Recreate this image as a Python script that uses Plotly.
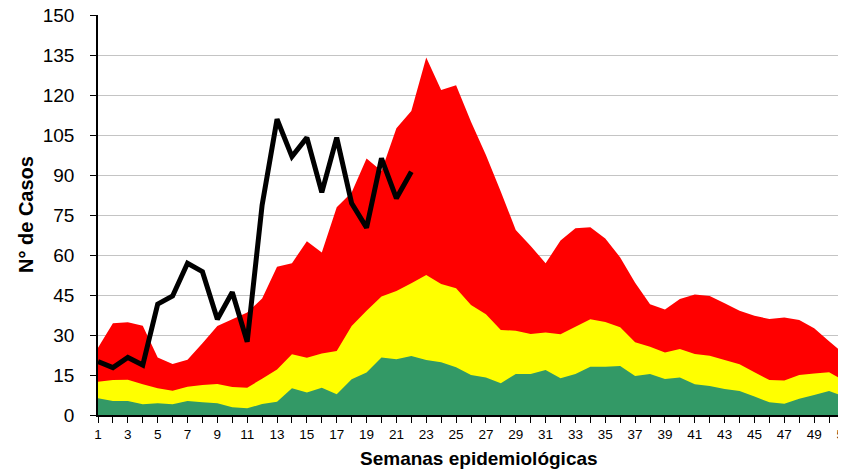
import plotly.graph_objects as go

weeks = list(range(1, 52))

# Upper channel (red area top)
red_top = [25.2, 34.4, 34.8, 33.5, 21.6, 19.1, 20.7, 26.9, 33.4, 35.9,
           38.4, 43.7, 55.6, 56.9, 65.2, 60.9, 77.9, 83.4, 96.2, 91.5,
           107.5, 114.0, 134.1, 121.9, 123.7, 110.0, 97.5, 83.7, 69.4, 63.4,
           56.9, 65.4, 70.0, 70.4, 66.2, 59.1, 49.6, 41.5, 39.6, 43.5,
           45.2, 44.6, 41.9, 39.1, 37.2, 36.0, 36.6, 35.6, 32.5, 27.7,
           22.9]

# Median / safety zone top (yellow)
yellow_top = [12.5, 13.1, 13.25, 11.5, 10.0, 9.1, 10.6, 11.25, 11.6, 10.5,
              10.25, 13.6, 17.1, 22.75, 21.5, 23.1, 24.0, 33.4, 39.1, 44.4,
              46.5, 49.4, 52.5, 49.1, 47.5, 41.25, 37.75, 31.9, 31.6, 30.4,
              30.9, 30.25, 33.1, 35.9, 34.9, 32.9, 27.25, 25.6, 23.4, 24.75,
              22.9, 22.25, 20.6, 19.0, 16.0, 13.1, 12.9, 15.0, 15.6, 16.0,
              12.9]

# Lower channel (green area top)
green_top = [6.25, 5.25, 5.25, 4.0, 4.4, 4.0, 5.25, 4.75, 4.4, 2.9,
             2.5, 4.1, 5.0, 10.0, 8.4, 10.25, 7.75, 13.4, 15.9, 21.6,
             20.9, 22.1, 20.6, 19.75, 17.9, 15.0, 14.1, 11.9, 15.4, 15.4,
             16.9, 13.75, 15.4, 18.1, 18.1, 18.4, 14.6, 15.4, 13.5, 14.1,
             11.5, 10.9, 9.75, 9.0, 6.9, 4.75, 4.25, 6.1, 7.5, 9.0,
             6.9]

# Current year cases
case_weeks = list(range(1, 23))
cases = [20.0, 17.75, 21.6, 18.75, 41.6, 44.6, 56.9, 53.75, 35.9, 46.0,
         27.5, 78.75, 110.9, 96.9, 104.0, 83.5, 104.0, 79.4, 70.25, 96.25,
         81.25, 91.25]

y_ticks = list(range(0, 151, 15))
x_tick_text = [str(w) if w % 2 == 1 else "" for w in weeks]

FONT = "Arial, 'Liberation Sans', sans-serif"

fig = go.Figure()
fig.add_trace(go.Scatter(x=weeks, y=red_top, mode="none", fill="tozeroy",
                         fillcolor="#FF0000", showlegend=False))
fig.add_trace(go.Scatter(x=weeks, y=yellow_top, mode="none", fill="tozeroy",
                         fillcolor="#FFFF00", showlegend=False))
fig.add_trace(go.Scatter(x=weeks, y=green_top, mode="none", fill="tozeroy",
                         fillcolor="#339966", showlegend=False))
fig.add_trace(go.Scatter(x=case_weeks, y=cases, mode="lines",
                         line=dict(color="black", width=5),
                         showlegend=False))

# The page body adds an 8px offset, so the figure is sized to fill the
# remaining 838x462 of the 846x470 window.
fig.update_layout(
    width=838, height=462,
    margin=dict(l=90, r=2, t=7, b=55),
    paper_bgcolor="white", plot_bgcolor="white",
    font=dict(family=FONT, color="black"),
    xaxis=dict(
        range=[1, 51], tickmode="array", tickvals=weeks, ticktext=x_tick_text,
        ticks="outside", ticklen=6, tickcolor="black", tickwidth=1.2,
        showline=True, linecolor="black", linewidth=1.6,
        showgrid=False, zeroline=False, automargin=False,
        ticklabeloverflow="allow",
        tickfont=dict(size=13.5, family=FONT),
    ),
    yaxis=dict(
        range=[0, 150], tickmode="array", tickvals=y_ticks,
        ticks="outside", ticklen=6, tickcolor="black", tickwidth=1.2,
        showline=True, linecolor="black", linewidth=1.6,
        showgrid=True, gridcolor="#C4C4C4", gridwidth=1.2, zeroline=False,
        automargin=False, ticklabeloverflow="allow",
        tickfont=dict(size=19, family=FONT),
        ticklabelstandoff=12,
    ),
    annotations=[
        dict(text="<b>Semanas epidemiológicas</b>", xref="paper", yref="paper",
             x=0.511, y=-0.1085, xanchor="center", yanchor="middle",
             showarrow=False, font=dict(size=19, family=FONT)),
        dict(text="<b>N° de Casos</b>", xref="paper", yref="paper",
             x=-0.0965, y=0.5, xanchor="center", yanchor="middle",
             textangle=-90, showarrow=False, font=dict(size=20, family=FONT)),
    ],
)

fig.write_html("out.html")
